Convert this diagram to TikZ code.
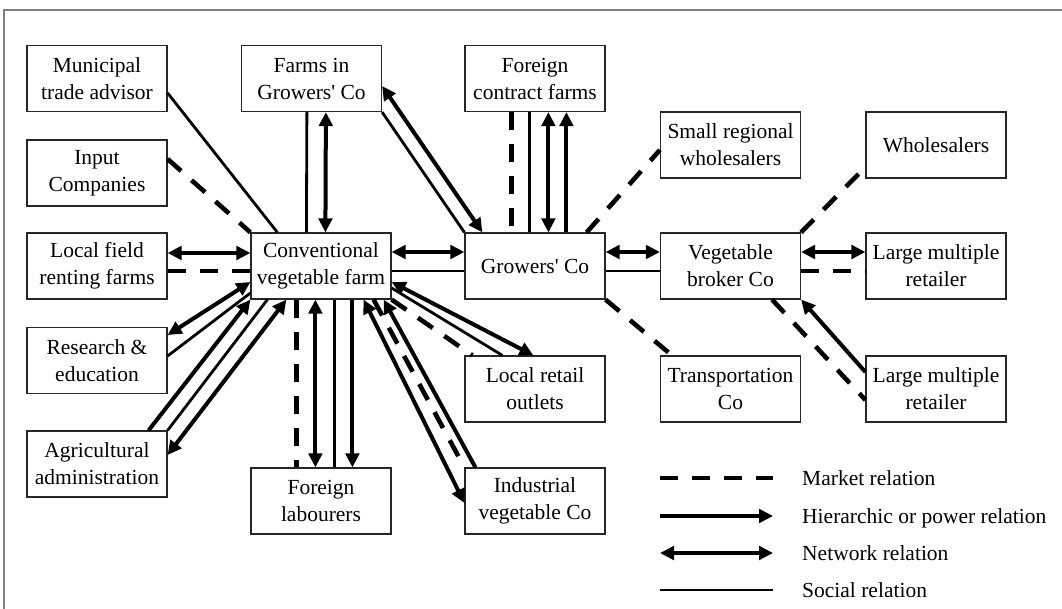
\documentclass[tikz,border=0pt]{standalone}
\usepackage{fontspec}
\setmainfont{Liberation Serif}
\usetikzlibrary{arrows.meta,calc}
\begin{document}
\begin{tikzpicture}[x=1pt,y=-1pt,
  >={Triangle[length=14pt,width=13.5pt]},
  box/.style={draw=black!85,fill=white,line width=1.2pt,minimum width=140pt,
    minimum height=66pt,inner sep=0pt,align=center,
    font=\fontsize{21.5}{27}\selectfont},
  market/.style={line width=4.6pt,dash pattern=on 18pt off 14pt},
  hier/.style={line width=4pt,->},
  netw/.style={line width=4pt,<->},
  social/.style={line width=2.8pt},
  lbl/.style={anchor=base west,inner sep=0pt,font=\fontsize{21.5}{27}\selectfont}
]
\useasboundingbox (0,0) rectangle (1062,609);
\fill[white] (0,0) rectangle (1062,609);
% frame edges
\draw[black!50,line width=1.5pt] (4,609) -- (4,10) -- (1062,10);

% actors
\node[box] (mta)  at (97,78.5)   {Municipal\\trade advisor};
\node[box] (ic)   at (97,173)    {Input\\Companies};
\node[box] (lfr)  at (97,266)    {Local field\\renting farms};
\node[box] (re)   at (97,360.5)  {Research \&\\education};
\node[box] (aa)   at (97,464)    {Agricultural\\administration};
\node[box] (fgc)  at (311.5,78.5){Farms in\\Growers\textquotesingle{} Co};
\node[box] (cvf)  at (321,266)   {Conventional\\vegetable farm};
\node[box] (fl)   at (321,501)   {Foreign\\labourers};
\node[box] (fcf)  at (535,78.5)  {Foreign\\contract farms};
\node[box] (gc)   at (535,266)   {Growers\textquotesingle{} Co};
\node[box] (lro)  at (535,389)   {Local retail\\outlets};
\node[box] (ivc)  at (535,501)   {Industrial\\vegetable Co};
\node[box] (srw)  at (730.5,145) {Small regional\\wholesalers};
\node[box] (vbc)  at (730.5,266) {Vegetable\\broker Co};
\node[box] (tc)   at (730.5,389) {Transportation\\Co};
\node[box] (wh)   at (936,145)   {Wholesalers};
\node[box] (lmr1) at (936,266)   {Large multiple\\retailer};
\node[box] (lmr2) at (936,389)   {Large multiple\\retailer};

% left-hand actors and the conventional farm
\draw[social] ($(mta.east)+(0,14.5)$) -- ($(cvf.north west)+(27,0)$);
\draw[market] ($(ic.east)+(0,-14)$) -- (cvf.north west);
\draw[netw] ($(lfr.east)+(0,-13)$) -- ($(cvf.west)+(0,-13)$);
\draw[market] ($(lfr.east)+(0,5)$) -- ($(cvf.west)+(0,5)$);
\draw[netw] ($(re.east)+(0,-25.5)$) -- ($(cvf.west)+(0,16)$);
\draw[social] ($(re.east)+(0,-4.5)$) -- ($(cvf.west)+(0,27)$);
\draw[hier] ($(aa.north east)+(-19,0)$) -- (cvf.south west);
\draw[social] (aa.north east) -- ($(cvf.south west)+(17,0)$);
\draw[netw] ($(aa.east)+(0,-9)$) -- ($(cvf.south west)+(36,0)$);

% farms in the growers' co
\draw[social] ($(fgc.south west)+(66,0)$) -- ($(cvf.north west)+(56,0)$);
\draw[netw] ($(fgc.south west)+(85,0)$) -- ($(cvf.north west)+(75,0)$);
\draw[social] (fgc.south east) -- (gc.north west);
\draw[netw] ($(fgc.east)+(0,7.5)$) -- ($(gc.north west)+(18,0)$);

% conventional farm and growers' co
\draw[netw] ($(cvf.east)+(0,-14)$) -- ($(gc.west)+(0,-14)$);
\draw[social] ($(cvf.east)+(0,5)$) -- ($(gc.west)+(0,5)$);

% foreign contract farms
\draw[market] ($(fcf.south west)+(47,0)$) -- ($(gc.north west)+(47,0)$);
\draw[social] ($(fcf.south west)+(65,0)$) -- ($(gc.north west)+(65,0)$);
\draw[netw] ($(fcf.south west)+(84,0)$) -- ($(gc.north west)+(84,0)$);
\draw[hier] ($(gc.north west)+(102,0)$) -- ($(fcf.south west)+(102,0)$);

% growers' co and its outlets
\draw[market] ($(gc.north east)+(-19,0)$) -- ($(srw.west)+(0,5)$);
\draw[netw] ($(gc.east)+(0,-14)$) -- ($(vbc.west)+(0,-14)$);
\draw[social] ($(gc.east)+(0,5)$) -- ($(vbc.west)+(0,5)$);
\draw[market] (gc.south east) -- ($(tc.north west)+(12,0)$);

% vegetable broker
\draw[market] (vbc.north east) -- ($(wh.west)+(0,22)$);
\draw[netw] ($(vbc.east)+(0,-14)$) -- ($(lmr1.west)+(0,-14)$);
\draw[market] ($(vbc.east)+(0,5)$) -- ($(lmr1.west)+(0,5)$);
\draw[market] ($(vbc.south east)+(-29,0)$) -- ($(lmr2.west)+(0,11)$);
\draw[hier] ($(lmr2.west)+(0,-17)$) -- (vbc.south east);

% local retail outlets
\draw[netw] ($(cvf.east)+(0,16)$) -- ($(lro.north west)+(69,0)$);
\draw[social] ($(cvf.east)+(0,22)$) -- ($(lro.north west)+(38,0)$);
\draw[market] (cvf.south east) -- ($(lro.north west)+(8,0)$);

% industrial vegetable co
\draw[netw] ($(cvf.south east)+(-28,0)$) -- ($(ivc.west)+(0,2)$);
\draw[market] ($(cvf.south east)+(-18,0)$) -- (ivc.north west);
\draw[hier] ($(ivc.north west)+(11,0)$) -- ($(cvf.south east)+(-8,0)$);

% foreign labourers
\draw[market] ($(cvf.south west)+(46,0)$) -- ($(fl.north west)+(46,0)$);
\draw[netw] ($(cvf.south west)+(65,0)$) -- ($(fl.north west)+(65,0)$);
\draw[social] ($(cvf.south west)+(84,0)$) -- ($(fl.north west)+(84,0)$);
\draw[hier] ($(cvf.south west)+(102,0)$) -- ($(fl.north west)+(102,0)$);

% key
\coordinate (k1a) at (660,478); \coordinate (k1b) at (773,478);
\coordinate (k2a) at (660,516); \coordinate (k2b) at (773,516);
\coordinate (k3a) at (660,553); \coordinate (k3b) at (773,553);
\coordinate (k4a) at (660,590); \coordinate (k4b) at (773,590);
\draw[market] (k1a) -- (k1b);
\draw[hier] (k2a) -- (k2b);
\draw[netw] (k3a) -- (k3b);
\draw[social] (k4a) -- (k4b);
\node[lbl] (k1t) at (802,485.5) {Market relation};
\node[lbl] (k2t) at (802,523) {Hierarchic or power relation};
\node[lbl] (k3t) at (802,560) {Network relation};
\node[lbl] (k4t) at (802,597) {Social relation};
\end{tikzpicture}
\end{document}
